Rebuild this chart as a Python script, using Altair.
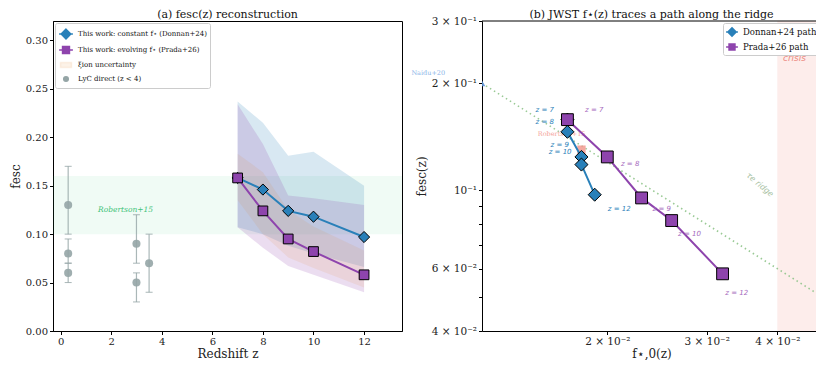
import altair as alt
import pandas as pd

FONT = "DejaVu Serif"
BLUE = "#2980b9"
PURPLE = "#8e44ad"
GRAY = "#95a5a6"
GREEN = "#2ecc71"
ORANGE = "#e67e22"
RED = "#e74c3c"

# ---------------- panel (a) data ----------------
z_model = [7, 8, 9, 10, 12]
fesc_donnan = [0.158, 0.146, 0.124, 0.118, 0.097]
fesc_prada = [0.158, 0.124, 0.095, 0.082, 0.058]
donnan_band_lo = [0.107, 0.100, 0.088, 0.080, 0.066]
donnan_band_hi = [0.237, 0.215, 0.181, 0.185, 0.150]
prada_band_lo = [0.107, 0.086, 0.067, 0.058, 0.040]
prada_band_hi = [0.234, 0.193, 0.140, 0.137, 0.130]
xi_band_lo = [0.135, 0.100, 0.076, 0.065, 0.045]
xi_band_hi = [0.183, 0.164, 0.125, 0.108, 0.083]

lyc_z = [0.3, 0.3, 0.3, 3.0, 3.0, 3.5]
lyc_fesc = [0.13, 0.08, 0.06, 0.09, 0.05, 0.07]
lyc_lo = [0.10, 0.07, 0.05, 0.07, 0.03, 0.04]
lyc_hi = [0.17, 0.095, 0.07, 0.12, 0.06, 0.10]

robertson_lo = [0.10]
robertson_hi = [0.16]
robertson_label = ["Robertson+15"]
robertson_label_z = [2.57]
robertson_label_f = [0.125]

legend_a_labels = [
    "This work: constant f⋆ (Donnan+24)",
    "This work: evolving f⋆ (Prada+26)",
    "ξion uncertainty",
    "LyC direct (z < 4)",
]

# ---------------- panel (b) data ----------------
fstar_donnan = [0.0170, 0.0170, 0.0180, 0.0180, 0.0190]
fstar_prada = [0.0170, 0.0200, 0.0230, 0.0260, 0.0320]
z_labels = ["z = 7", "z = 8", "z = 9", "z = 10", "z = 12"]
zlab_donnan_x = [0.0155, 0.0155, 0.01648, 0.0165, 0.0210]
zlab_donnan_y = [0.168, 0.156, 0.134, 0.128, 0.0885]
zlab_prada_x = [0.01897, 0.02195, 0.02498, 0.02797, 0.0339]
zlab_prada_y = [0.168, 0.1186, 0.0885, 0.0751, 0.0511]

ridge_fstar = [0.012, 0.050]
ridge_fesc = [0.200, 0.0480]
ridge_label = ["τe ridge"]
ridge_label_x = [0.0372]
ridge_label_y = [0.1033]

naidu_fstar = [0.012]
naidu_fesc = [0.200]
naidu_label = ["Naidu+20"]
naidu_label_x = [0.00964]
naidu_label_y = [0.214]

rob_b_fstar = [0.0180]
rob_b_fesc = [0.130]
rob_b_label_x = [0.0166]
rob_b_label_y = [0.1443]

crisis_lo = [0.040]
crisis_hi = [0.060]
crisis_label = ["crisis"]
crisis_label_x = [0.0429]
crisis_label_y = [0.236]

legend_b_labels = ["Donnan+24 path", "Prada+26 path"]

# ---------------- sizes ----------------
WA, HA = 349, 310
WB, HB = 339, 310

# ---------------- shared encodings (a) ----------------
xa_scale = alt.Scale(domain=[-0.3, 13.5], nice=False, zero=False)
ya_scale = alt.Scale(domain=[0, 0.32], nice=False, zero=False)
XA = alt.X("x:Q", scale=xa_scale,
           axis=alt.Axis(values=[0, 2, 4, 6, 8, 10, 12], format="d", title="Redshift z"))
YA = alt.Y("y:Q", scale=ya_scale,
           axis=alt.Axis(values=[0, 0.05, 0.10, 0.15, 0.20, 0.25, 0.30], format=".2f", title="fesc"))
Y2 = alt.Y2("y2:Q")

df_rob = pd.DataFrame({"y": robertson_lo, "y2": robertson_hi})
rob_band = alt.Chart(df_rob).mark_rect(color=GREEN, opacity=0.07).encode(
    y=YA, y2=Y2, x=alt.value(0), x2=alt.value(WA))


def band(lo, hi, color, op):
    d = pd.DataFrame({"x": z_model, "y": lo, "y2": hi})
    return alt.Chart(d).mark_area(color=color, opacity=op).encode(x=XA, y=YA, y2=Y2)


band_d = band(donnan_band_lo, donnan_band_hi, BLUE, 0.18)
band_p = band(prada_band_lo, prada_band_hi, PURPLE, 0.18)
band_x = band(xi_band_lo, xi_band_hi, ORANGE, 0.10)

df_rob_t = pd.DataFrame({"x": robertson_label_z, "y": robertson_label_f, "t": robertson_label})
rob_text = alt.Chart(df_rob_t).mark_text(font=FONT, fontSize=7.5, fontStyle="italic",
                                        color="#3fc37a").encode(x=XA, y=YA, text="t:N")

df_lyc = pd.DataFrame({"x": lyc_z, "y": lyc_fesc, "lo": lyc_lo, "hi": lyc_hi})
lyc_rule = alt.Chart(df_lyc).mark_rule(color=GRAY, strokeWidth=1.2, opacity=0.8).encode(
    x=XA, y=alt.Y("lo:Q", scale=ya_scale), y2="hi:Q")
lyc_cap_lo = alt.Chart(df_lyc).mark_tick(color=GRAY, orient="horizontal", size=7,
                                          thickness=1, opacity=0.8).encode(
    x=XA, y=alt.Y("lo:Q", scale=ya_scale))
lyc_cap_hi = alt.Chart(df_lyc).mark_tick(color=GRAY, orient="horizontal", size=7,
                                          thickness=1, opacity=0.8).encode(
    x=XA, y=alt.Y("hi:Q", scale=ya_scale))
lyc_pts = alt.Chart(df_lyc).mark_point(filled=True, shape="circle", size=65, color=GRAY,
                                       opacity=0.9).encode(x=XA, y=YA)

df_d = pd.DataFrame({"x": z_model, "y": fesc_donnan})
df_p = pd.DataFrame({"x": z_model, "y": fesc_prada})
line_d = alt.Chart(df_d).mark_line(color=BLUE, strokeWidth=2).encode(x=XA, y=YA)
pts_d = alt.Chart(df_d).mark_point(filled=True, shape="diamond", size=125, color=BLUE,
                                   stroke="black", strokeWidth=1, opacity=1).encode(x=XA, y=YA)
line_p = alt.Chart(df_p).mark_line(color=PURPLE, strokeWidth=2).encode(x=XA, y=YA)
pts_p = alt.Chart(df_p).mark_point(filled=True, shape="square", size=95, color=PURPLE,
                                   stroke="black", strokeWidth=1, opacity=1).encode(x=XA, y=YA)

DIAMOND_LINE = "M-1,0L1,0M0,-0.7L0.7,0L0,0.7L-0.7,0Z"
SQUARE_LINE = "M-1,0L1,0M-0.5,-0.5L0.5,-0.5L0.5,0.5L-0.5,0.5Z"
PATCH = "M-0.8,-0.35L0.8,-0.35L0.8,0.35L-0.8,0.35Z"
CIRCLE = "M-0.33,0A0.33,0.33,0,1,0,0.33,0A0.33,0.33,0,1,0,-0.33,0Z"

leg_a = alt.Legend(title=None, orient="top-left", offset=2, labelFont=FONT, labelFontSize=7,
                   symbolSize=190, symbolStrokeWidth=1.5, padding=3, strokeColor="#cccccc",
                   fillColor="white", cornerRadius=2, rowPadding=0, labelLimit=400,
                   symbolOpacity=1, labelColor="#111111", labelOffset=4)
df_leg_a = pd.DataFrame({"x": [-5.0] * 4, "y": [0.1] * 4, "leg": legend_a_labels})
legend_layer_a = alt.Chart(df_leg_a).mark_point(filled=True, clip=True, opacity=1).encode(
    x=XA, y=YA,
    color=alt.Color("leg:N", legend=leg_a,
                    scale=alt.Scale(domain=legend_a_labels,
                                    range=[BLUE, PURPLE, "rgba(230,126,34,0.10)", GRAY])),
    stroke=alt.Stroke("leg:N", legend=leg_a,
                      scale=alt.Scale(domain=legend_a_labels,
                                      range=[BLUE, PURPLE, "rgba(230,126,34,0.10)", GRAY])),
    shape=alt.Shape("leg:N", legend=leg_a,
                    scale=alt.Scale(domain=legend_a_labels,
                                    range=[DIAMOND_LINE, SQUARE_LINE, PATCH, CIRCLE])),
)

panel_a = alt.layer(
    rob_band, band_d, band_p, band_x, rob_text,
    lyc_rule, lyc_cap_lo, lyc_cap_hi, lyc_pts,
    line_d, pts_d, line_p, pts_p, legend_layer_a,
).properties(width=WA, height=HA,
             title=alt.TitleParams("(a) fesc(z) reconstruction", offset=1))

# ---------------- panel (b) ----------------
xb_scale = alt.Scale(type="log", domain=[0.012, 0.0478], nice=False)
yb_scale = alt.Scale(type="log", domain=[0.04, 0.30], nice=False)
XB = alt.X("x:Q", scale=xb_scale, axis=alt.Axis(
    values=[0.02, 0.03, 0.04], title="f⋆,0(z)", labelFontSize=10.5,
    labelExpr="datum.value < 0.025 ? '2 × 10⁻²' : datum.value < 0.035 ? '3 × 10⁻²' : '4 × 10⁻²'"))
YB = alt.Y("y:Q", scale=yb_scale, axis=alt.Axis(
    values=[0.04, 0.05, 0.06, 0.07, 0.08, 0.09, 0.1, 0.2, 0.3], title="fesc(z)", labelFontSize=10.5,
    labelExpr=("abs(datum.value-0.04)<0.001 ? '4 × 10⁻²' : abs(datum.value-0.06)<0.001 ? '6 × 10⁻²' : "
               "abs(datum.value-0.1)<0.001 ? '10⁻¹' : abs(datum.value-0.2)<0.001 ? '2 × 10⁻¹' : "
               "abs(datum.value-0.3)<0.001 ? '3 × 10⁻¹' : ''")))

df_crisis = pd.DataFrame({"x": crisis_lo, "x2": crisis_hi})
crisis_band = alt.Chart(df_crisis).mark_rect(color=RED, opacity=0.10, clip=True).encode(
    x=XB, x2="x2:Q", y=alt.value(0), y2=alt.value(HB))

df_ridge = pd.DataFrame({"x": ridge_fstar, "y": ridge_fesc})
ridge = alt.Chart(df_ridge).mark_line(color="#8fc48a", strokeWidth=1.6, strokeDash=[1.5, 3.2],
                                      clip=True, opacity=0.9).encode(x=XB, y=YB)

df_naidu = pd.DataFrame({"x": naidu_fstar, "y": naidu_fesc})
naidu_pt = alt.Chart(df_naidu).mark_point(filled=True, shape="triangle-up", size=45,
                                          color="#5b8fd6", clip=True, opacity=0.9).encode(x=XB, y=YB)
df_naidu_t = pd.DataFrame({"x": naidu_label_x, "y": naidu_label_y, "t": naidu_label})
naidu_txt = alt.Chart(df_naidu_t).mark_text(font=FONT, fontSize=6.5, color="#8ab4e8").encode(
    x=XB, y=YB, text="t:N")

df_crisis_t = pd.DataFrame({"x": crisis_label_x, "y": crisis_label_y, "t": crisis_label})
crisis_txt = alt.Chart(df_crisis_t).mark_text(font="DejaVu Sans", fontSize=9, fontStyle="italic",
                                              color="#ec8a80").encode(x=XB, y=YB, text="t:N")
df_ridge_t = pd.DataFrame({"x": ridge_label_x, "y": ridge_label_y, "t": ridge_label})
ridge_txt = alt.Chart(df_ridge_t).mark_text(font="DejaVu Sans", fontSize=8, fontStyle="italic",
                                            angle=40, color="#a9c2a3").encode(x=XB, y=YB, text="t:N")

df_rob_b = pd.DataFrame({"x": rob_b_fstar, "y": rob_b_fesc})
rob_b_pt = alt.Chart(df_rob_b).mark_point(filled=True, shape="square", size=70, color="#f1948a",
                                          opacity=0.8).encode(x=XB, y=YB)
df_rob_bt = pd.DataFrame({"x": rob_b_label_x, "y": rob_b_label_y, "t": robertson_label})
rob_b_txt = alt.Chart(df_rob_bt).mark_text(font=FONT, fontSize=6.5, color="#f4a49a").encode(
    x=XB, y=YB, text="t:N")

df_bd = pd.DataFrame({"x": fstar_donnan, "y": fesc_donnan})
df_bp = pd.DataFrame({"x": fstar_prada, "y": fesc_prada})
bline_d = alt.Chart(df_bd).mark_line(color=BLUE, strokeWidth=2).encode(x=XB, y=YB)
bpts_d = alt.Chart(df_bd).mark_point(filled=True, shape="diamond", size=170, color=BLUE,
                                     stroke="black", strokeWidth=1, opacity=1).encode(x=XB, y=YB)
bline_p = alt.Chart(df_bp).mark_line(color=PURPLE, strokeWidth=2).encode(x=XB, y=YB)
bpts_p = alt.Chart(df_bp).mark_point(filled=True, shape="square", size=140, color=PURPLE,
                                     stroke="black", strokeWidth=1, opacity=1).encode(x=XB, y=YB)

df_zd = pd.DataFrame({"x": zlab_donnan_x, "y": zlab_donnan_y, "t": z_labels})
df_zp = pd.DataFrame({"x": zlab_prada_x, "y": zlab_prada_y, "t": z_labels})
zlab_d = alt.Chart(df_zd).mark_text(font="DejaVu Sans", fontSize=7, fontStyle="italic",
                                    color=BLUE).encode(x=XB, y=YB, text="t:N")
zlab_p = alt.Chart(df_zp).mark_text(font="DejaVu Sans", fontSize=7, fontStyle="italic",
                                    color="#a569bd").encode(x=XB, y=YB, text="t:N")

top_rule = alt.Chart(df_rob_b).mark_rule(color="black", strokeWidth=1).encode(
    y=alt.value(0), x=alt.value(0), x2=alt.value(WB))

leg_b = alt.Legend(title=None, orient="top-right", offset=2, labelFont=FONT, labelFontSize=8.5,
                   symbolSize=140, symbolStrokeWidth=1.5, padding=2, strokeColor="#cccccc",
                   fillColor="white", cornerRadius=2, rowPadding=0, labelLimit=400,
                   symbolOpacity=1, labelColor="#111111", labelOffset=4)
df_leg_b = pd.DataFrame({"x": [0.005] * 2, "y": [0.1] * 2, "legb": legend_b_labels})
legend_layer_b = alt.Chart(df_leg_b).mark_point(filled=True, clip=True, opacity=1).encode(
    x=XB, y=YB,
    color=alt.Color("legb:N", legend=leg_b,
                    scale=alt.Scale(domain=legend_b_labels, range=[BLUE, PURPLE])),
    stroke=alt.Stroke("legb:N", legend=leg_b,
                      scale=alt.Scale(domain=legend_b_labels, range=[BLUE, PURPLE])),
    shape=alt.Shape("legb:N", legend=leg_b,
                    scale=alt.Scale(domain=legend_b_labels, range=[DIAMOND_LINE, SQUARE_LINE])),
)

panel_b = alt.layer(
    crisis_band, ridge, naidu_pt, naidu_txt, crisis_txt, ridge_txt,
    rob_b_txt, rob_b_pt, bline_d, bpts_d, bline_p, bpts_p, zlab_d, zlab_p,
    top_rule, legend_layer_b,
).properties(width=WB, height=HB,
             title=alt.TitleParams("(b) JWST f⋆(z) traces a path along the ridge", offset=-4),
             view=alt.ViewBackground(stroke="transparent"))

chart = alt.hconcat(panel_a, panel_b, spacing=7).resolve_scale(
    color="independent", stroke="independent", shape="independent"
).resolve_legend(color="independent", stroke="independent", shape="independent").properties(
    padding={"left": 0, "top": 0, "right": -6, "bottom": 0}
).configure_view(stroke="black", strokeWidth=1).configure_axis(
    labelFont=FONT, titleFont=FONT, labelFontSize=10, titleFontSize=12,
    titleFontWeight="normal", labelColor="#222222", titleColor="#222222",
    domainColor="black", tickColor="black", tickSize=3.5, labelPadding=2, titlePadding=3,
    grid=False,
).configure_axisX(labelPadding=1.5, titlePadding=2).configure_title(
    font=FONT, fontSize=11, fontWeight="normal", anchor="middle", color="#111111")

chart.save("out.html", embed_options={"renderer": "svg", "actions": False})
